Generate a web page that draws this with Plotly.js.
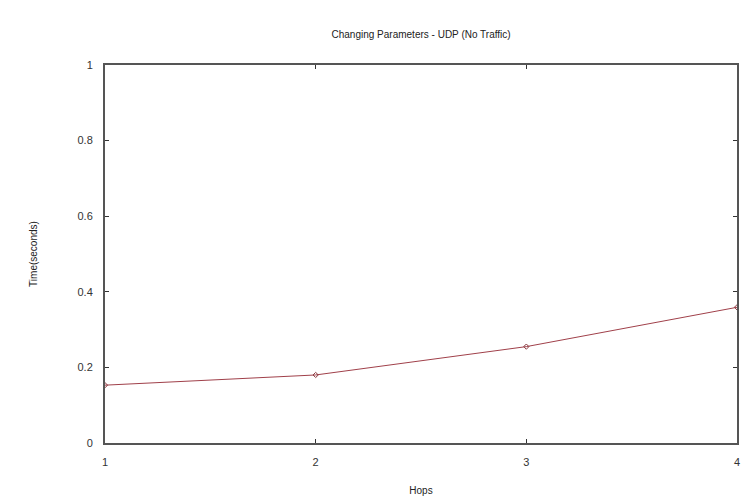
<!DOCTYPE html>
<html>
<head>
<meta charset="utf-8">
<script src="https://cdn.plot.ly/plotly-3.0.1.min.js"></script>
<style>html,body{margin:0;padding:0;background:#fff;}#chart{width:756px;height:502px;}</style>
</head>
<body>
<div id="chart"></div>
<script>
const hops = [1, 2, 3, 4];
const timeSeconds = [0.153, 0.18, 0.255, 0.359];
const xTickVals = [1, 2, 3, 4];
const yTickVals = [0, 0.2, 0.4, 0.6, 0.8, 1];
const yTickText = ['0', '0.2', '0.4', '0.6', '0.8', '1'];

const trace = {
  x: hops,
  y: timeSeconds,
  type: 'scatter',
  mode: 'lines+markers',
  line: {color: '#a0404a', width: 1},
  marker: {symbol: 'diamond-open', size: 4, color: '#8a3a40', line: {width: 1}},
  showlegend: false
};

const axisCommon = {
  showgrid: false,
  zeroline: false,
  showline: true,
  mirror: 'ticks',
  linecolor: '#555',
  linewidth: 2,
  ticks: 'inside',
  ticklen: 4,
  tickcolor: '#333',
  tickfont: {family: 'Liberation Sans, Arial, sans-serif', size: 11, color: '#333'}
};

const layout = {
  width: 756,
  height: 502,
  margin: {l: 105, r: 19, t: 65, b: 59},
  paper_bgcolor: '#fff',
  plot_bgcolor: '#fff',
  title: {
    text: 'Changing Parameters - UDP (No Traffic)',
    font: {family: 'Liberation Sans, Arial, sans-serif', size: 10, color: '#222'},
    x: 0.557, xanchor: 'center', y: 0.932, yanchor: 'middle'
  },
  xaxis: Object.assign({}, axisCommon, {
    range: [1, 4],
    tickvals: xTickVals,
    ticklabelstandoff: 8,
    title: {text: 'Hops', font: {family: 'Liberation Sans, Arial, sans-serif', size: 10, color: '#222'}, standoff: 20}
  }),
  yaxis: Object.assign({}, axisCommon, {
    range: [0, 1],
    tickvals: yTickVals,
    ticktext: yTickText,
    ticklabelstandoff: 8,
    title: {text: 'Time(seconds)', font: {family: 'Liberation Sans, Arial, sans-serif', size: 10, color: '#222'}, standoff: 38}
  })
};

Plotly.newPlot('chart', [trace], layout, {displayModeBar: false, staticPlot: true});
</script>
</body>
</html>
